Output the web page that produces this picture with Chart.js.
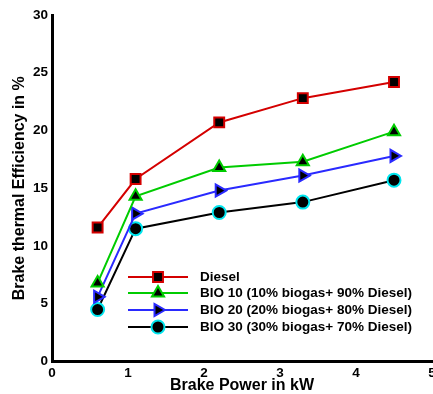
<!DOCTYPE html>
<html>
<head>
<meta charset="utf-8">
<script src="https://cdn.jsdelivr.net/npm/chart.js@4.4.0/dist/chart.umd.min.js"></script>
<style>
html,body{margin:0;padding:0;background:#fff;overflow:hidden;}
#clip{width:433px;height:394px;overflow:hidden;position:relative;}
#wrap{width:441px;height:394px;position:absolute;left:0;top:0;}
</style>
</head>
<body>
<div id="clip"><div id="wrap"><canvas id="c"></canvas></div></div>
<script>
const brakePower = [0.6, 1.1, 2.2, 3.3, 4.5];
const diesel = [11.6, 15.8, 20.7, 22.8, 24.2];
const bio10 = [6.8, 14.3, 16.8, 17.3, 19.9];
const bio20 = [5.6, 12.8, 14.8, 16.1, 17.8];
const bio30 = [4.5, 11.5, 12.9, 13.8, 15.7];
const seriesLabels = ['Diesel', 'BIO 10 (10% biogas+ 90% Diesel)', 'BIO 20 (20% biogas+ 80% Diesel)', 'BIO 30 (30% biogas+ 70% Diesel)'];
const xTicks = [0, 1, 2, 3, 4, 5];
const yTicks = [0, 5, 10, 15, 20, 25, 30];

const FONT = "'Liberation Sans', Arial, sans-serif";
const toPts = arr => arr.map((v, i) => ({x: brakePower[i], y: v}));

const styles = [
  {line: '#d40000', border: '#d40000', style: 'rect', rot: 0, r: 7},
  {line: '#00cc00', border: '#00cc00', style: 'triangle', rot: 0, r: 7},
  {line: '#2a2aff', border: '#2a2aff', style: 'triangle', rot: 90, r: 7},
  {line: '#000000', border: '#00e5ee', style: 'circle', rot: 0, r: 6.5}
];
const values = [diesel, bio10, bio20, bio30];

const datasets = values.map((v, i) => ({
  label: seriesLabels[i],
  data: toPts(v),
  showLine: true,
  borderColor: styles[i].line,
  borderWidth: 2,
  pointStyle: styles[i].style,
  pointRotation: styles[i].rot,
  pointRadius: styles[i].r,
  pointBackgroundColor: '#000',
  pointBorderColor: styles[i].border,
  pointBorderWidth: 2,
  tension: 0
}));

const legendPlugin = {
  id: 'customLegend',
  afterDatasetsDraw(chart) {
    const ctx = chart.ctx;
    ctx.save();
    const x0 = 128, x1 = 188, mx = 158, tx = 200;
    const rows = [277, 293, 310, 327];
    chart.data.datasets.forEach((ds, i) => {
      const y = rows[i];
      ctx.strokeStyle = ds.borderColor;
      ctx.lineWidth = 2;
      ctx.beginPath(); ctx.moveTo(x0, y); ctx.lineTo(x1, y); ctx.stroke();
      ctx.fillStyle = '#000';
      ctx.strokeStyle = ds.pointBorderColor;
      ctx.lineWidth = 2;
      Chart.helpers.drawPoint(ctx, {pointStyle: ds.pointStyle, rotation: ds.pointRotation, radius: ds.pointRadius, borderWidth: 2}, mx, y);
      ctx.fillStyle = '#000';
      ctx.font = "bold 13.5px " + FONT;
      ctx.textBaseline = 'middle';
      ctx.textAlign = 'left';
      ctx.fillText(ds.label, tx, y);
    });
    ctx.restore();
  }
};

new Chart(document.getElementById('c'), {
  type: 'scatter',
  data: {datasets},
  plugins: [legendPlugin],
  options: {
    responsive: true,
    maintainAspectRatio: false,
    animation: false,
    layout: {padding: {top: 15, right: 0, bottom: 0, left: 10}},
    plugins: {legend: {display: false}, tooltip: {enabled: false}},
    scales: {
      x: {
        type: 'linear', min: 0, max: 5,
        afterBuildTicks: s => { s.ticks = xTicks.map(v => ({value: v})); },
        grid: {display: false, drawOnChartArea: false, drawTicks: true, tickLength: 5, tickWidth: 2, tickColor: '#000'},
        border: {display: true, color: '#000', width: 3},
        ticks: {color: '#000', padding: 0, font: {family: FONT, size: 13.5, weight: 'bold', lineHeight: 1}, maxRotation: 0},
        title: {display: true, text: 'Brake Power in kW', color: '#000', padding: {top: -2, bottom: 0}, font: {family: FONT, size: 16, weight: 'bold', lineHeight: 1}}
      },
      y: {
        type: 'linear', min: 0, max: 30,
        afterBuildTicks: s => { s.ticks = yTicks.map(v => ({value: v})); },
        grid: {display: false, drawOnChartArea: false, drawTicks: true, tickLength: 4, tickWidth: 2, tickColor: '#000'},
        border: {display: true, color: '#000', width: 3},
        ticks: {color: '#000', padding: 0, font: {family: FONT, size: 13.5, weight: 'bold'}},
        title: {display: true, text: 'Brake thermal Efficiency in %', color: '#000', padding: {top: 2, bottom: 5}, font: {family: FONT, size: 16, weight: 'bold', lineHeight: 1}}
      }
    }
  }
});
</script>
</body>
</html>
